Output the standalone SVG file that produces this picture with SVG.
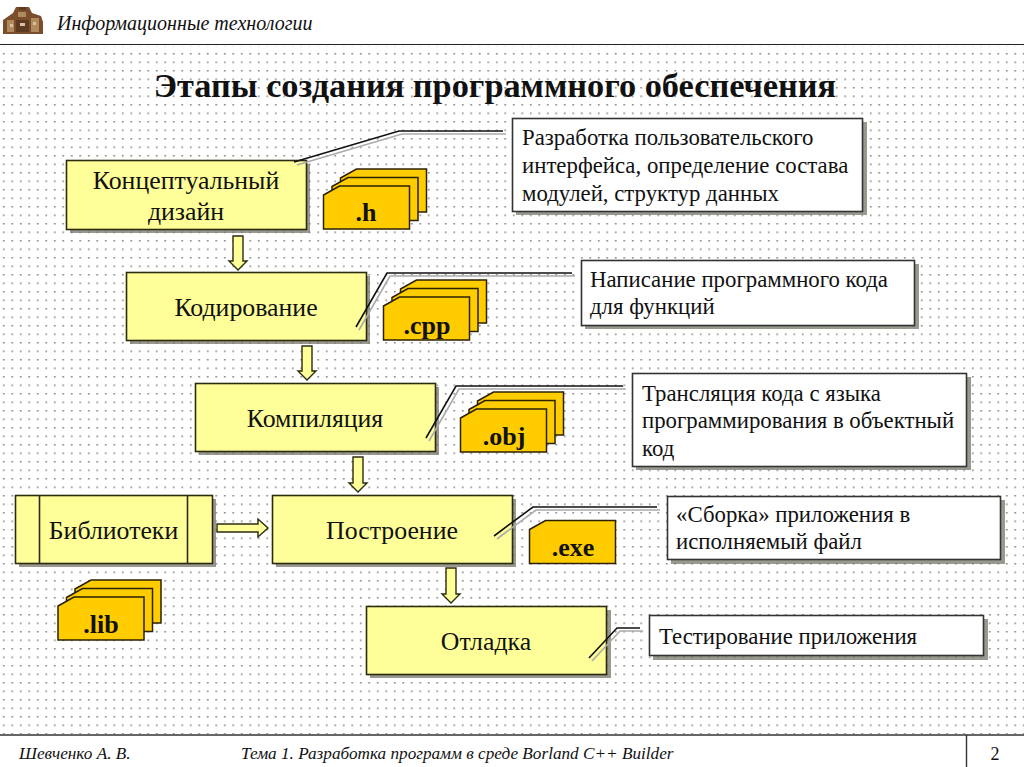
<svg xmlns="http://www.w3.org/2000/svg" width="1024" height="767" viewBox="0 0 1024 767">
<style>
text{font-family:"Liberation Serif","Times New Roman",serif;fill:#111}
.n{fill:#ffff99;stroke:#2b2b10;stroke-width:1.6}
.sh{fill:#77776a;opacity:.75}
.t{font-size:25.800px;text-anchor:middle}
.c{fill:#fff;stroke:#333;stroke-width:1.6}
.ct{font-size:22.800px}
.f{fill:#ffcc00;stroke:#2b2000;stroke-width:1.5}
.ft{font-size:26px;font-weight:bold;text-anchor:middle}
.l1{fill:none;stroke:#111;stroke-width:1.6}
.l2{fill:none;stroke:#aaa;stroke-width:1.6}
.a{fill:#ffff99;stroke:#2b2b10;stroke-width:1.4}
.i{font-style:italic}
</style>
<defs>
<pattern id="dots" width="8.5" height="8.5" patternUnits="userSpaceOnUse" x="0" y="53">
<rect x="3" y="0" width="1.5" height="1.5" fill="#777"/>
</pattern>
<g id="file"><path d="M0 9L16 0H86V43H0Z" class="f"/></g>
<g id="stack"><use href="#file" x="17" y="-17"/><use href="#file" x="8.5" y="-8.5"/><use href="#file"/></g>
</defs>
<rect width="1024" height="767" fill="#fff"/>
<rect x="0" y="46" width="1024" height="688" fill="url(#dots)"/>
<g id="header">
<g id="logo">
<path d="M3 34V20L13 13L16 7H29L32 13L41 16L43 22V34Z" fill="#7a4e2c"/>
<path d="M7 20h7v12H7zM18 12h8v5h-8zM31 18h8v14h-8z" fill="#b08a5c"/>
<path d="M16 20h13v12H16zM19 7h7v3h-7z" fill="#5e3a20"/>
<path d="M10 24h3v3h-3zM20 23h5v3h-5zM33 22h3v3h-3z" fill="#d8c0a0"/>
</g>
<text x="57" y="30" font-size="20" class="i">Информационные технологии</text>
<line x1="0" y1="44.500" x2="1024" y2="44.500" stroke="#222" stroke-width="1.200"/>
</g>
<text id="title" x="495" y="97" font-size="34.300" font-weight="bold" text-anchor="middle">Этапы создания программного обеспечения</text>
<g id="n-concept"><rect class="sh" x="70" y="164" width="240" height="69"/><rect class="n" x="66.500" y="160.500" width="240" height="69"/><text class="t" x="186" y="189">Концептуальный</text><text class="t" x="186" y="220">дизайн</text></g>
<g id="n-code"><rect class="sh" x="130" y="276" width="240" height="68"/><rect class="n" x="126.500" y="272.500" width="240" height="68"/><text class="t" x="246" y="316">Кодирование</text></g>
<g id="n-compile"><rect class="sh" x="199" y="387" width="240" height="68"/><rect class="n" x="195.500" y="383.500" width="240" height="68"/><text class="t" x="315" y="427">Компиляция</text></g>
<g id="n-build"><rect class="sh" x="276" y="499" width="240" height="68"/><rect class="n" x="272.500" y="495.500" width="240" height="68"/><text class="t" x="392" y="539">Построение</text></g>
<g id="n-debug"><rect class="sh" x="370" y="610" width="241" height="68"/><rect class="n" x="366.500" y="606.500" width="240" height="68"/><text class="t" x="486" y="650">Отладка</text></g>
<g id="n-lib"><rect class="sh" x="19" y="499" width="197" height="68"/><rect class="n" x="15.500" y="495.500" width="197" height="68"/><path d="M39.500 495.500V563.500M187.500 495.500V563.500" stroke="#2b2b10" stroke-width="1.600"/><text class="t" x="113.500" y="539">Библиотеки</text></g>
<g id="f-h"><use href="#stack" x="323.500" y="186"/><text class="ft" x="366" y="221">.h</text></g>
<g id="f-cpp"><use href="#stack" x="383.500" y="297"/><text class="ft" x="427" y="334">.cpp</text></g>
<g id="f-obj"><use href="#stack" x="460.500" y="409"/><text class="ft" x="504" y="445">.obj</text></g>
<g id="f-exe"><use href="#file" x="529.500" y="520.500"/><text class="ft" x="573" y="556">.exe</text></g>
<g id="f-lib"><use href="#stack" x="58" y="597"/><text class="ft" x="101" y="633">.lib</text></g>
<g id="c1"><rect class="sh" x="516" y="122" width="351" height="93"/><rect class="c" x="512.500" y="118.500" width="350" height="93"/><text class="ct" x="522" y="145">Разработка пользовательского</text><text class="ct" x="522" y="173">интерфейса, определение состава</text><text class="ct" x="522" y="201">модулей, структур данных</text></g>
<g id="c2"><rect class="sh" x="585" y="264" width="334" height="65"/><rect class="c" x="581.500" y="260.500" width="333" height="65"/><text class="ct" x="590" y="287">Написание программного кода</text><text class="ct" x="590" y="314">для функций</text></g>
<g id="c3"><rect class="sh" x="636" y="377" width="335" height="93"/><rect class="c" x="632.500" y="373.500" width="334" height="93"/><text class="ct" x="642" y="401">Трансляция кода с языка</text><text class="ct" x="642" y="428">программирования в объектный</text><text class="ct" x="642" y="456">код</text></g>
<g id="c4"><rect class="sh" x="671" y="500" width="334" height="64"/><rect class="c" x="667.500" y="496.500" width="333" height="63"/><text class="ct" x="676" y="522">«Сборка» приложения в</text><text class="ct" x="676" y="549">исполняемый файл</text></g>
<g id="c5"><rect class="sh" x="653" y="619" width="335" height="41"/><rect class="c" x="649.500" y="615.500" width="334" height="40"/><text class="ct" x="659" y="644">Тестирование приложения</text></g>
<g id="connectors">
<path class="l2" d="M297 165L402 134H506"/><path class="l1" d="M294 162L399 131H503"/>
<path class="l2" d="M359 330L390 276H575"/><path class="l1" d="M356 327L387 273H572"/>
<path class="l2" d="M429 441L459 389H626"/><path class="l1" d="M426 438L456 386H623"/>
<path class="l2" d="M497 539L536 510H660"/><path class="l1" d="M494 536L533 507H657"/>
<path class="l2" d="M592 661L620 631H643"/><path class="l1" d="M589 658L617 628H640"/>
<path class="a" d="M233 236H243V261H247L238 270L229 261H233Z"/>
<path class="a" d="M302 346H312V371H316L307 380L298 371H302Z"/>
<path class="a" d="M353 457H363V483H367L358 492L349 483H353Z"/>
<path class="a" d="M446 568H456V594H460L451 603L442 594H446Z"/>
<path class="a" d="M217 524H258V519L268 528L258 537V532H217Z"/>
</g>
<g id="footer">
<rect x="0" y="735" width="1024" height="32" fill="#fff"/>
<line x1="0" y1="735" x2="1024" y2="735" stroke="#333" stroke-width="1.400"/>
<line x1="966.500" y1="735" x2="966.500" y2="767" stroke="#333" stroke-width="1.400"/>
<text x="19" y="759" font-size="17.200" class="i">Шевченко А. В.</text>
<text x="241" y="759" font-size="17.200" class="i">Тема 1. Разработка программ в среде Borland C++ Builder</text>
<text x="995" y="760" font-size="18" text-anchor="middle">2</text>
</g>
</svg>
